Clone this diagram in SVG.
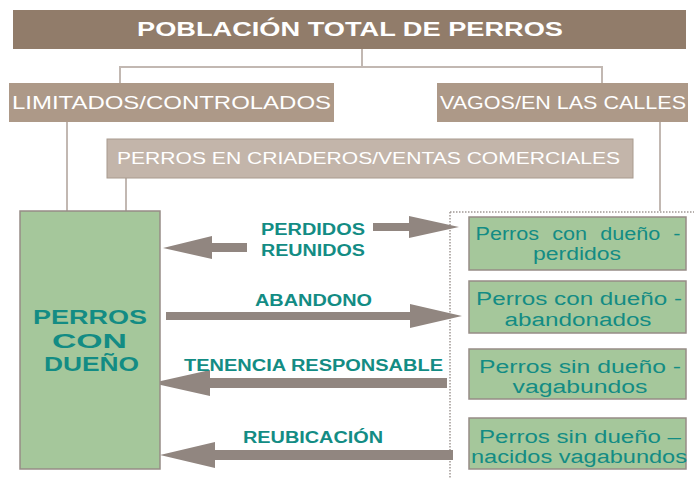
<svg xmlns="http://www.w3.org/2000/svg" width="694" height="479" viewBox="0 0 694 479">
<style>
.line{stroke:#c2b8b2;stroke-width:2;fill:none}
.arr{fill:#918680}
.lbl{font-family:"Liberation Sans",Arial,sans-serif;font-weight:bold;font-size:16px;fill:#138c84}
.gbox{fill:#a5c79b;stroke:#978c86;stroke-width:1.5}
.gtxt{font-family:"Liberation Sans",Arial,sans-serif;font-size:18px;fill:#138c84;text-anchor:middle}
.wtxt{font-family:"Liberation Sans",Arial,sans-serif;fill:#ffffff}
</style>
<rect width="694" height="479" fill="#ffffff"/>
<g id="connectors">
<path class="line" d="M362 48V67M120 83V67H602V83"/>
<path class="line" d="M67 122V211M660 122V211M126 178V211"/>
<path d="M450 212H694M450 212V479" stroke="#a09894" stroke-width="1.5" stroke-dasharray="1.5 1.5" fill="none"/>
<path class="arr" d="M373 223H409V216L459 227L409 238V231H373Z"/>
<path class="arr" d="M247 243H212V236L163 248L212 259V252H247Z"/>
<path class="arr" d="M166 312H410V304L462 316L410 328V320H166Z"/>
<path class="arr" d="M447 378H210V370L152 383L210 396V388H447Z"/>
<path class="arr" d="M453 450H215V442L160 455L215 468V460H453Z"/>
<text class="lbl" x="261" y="235" textLength="104" lengthAdjust="spacingAndGlyphs">PERDIDOS</text>
<text class="lbl" x="261" y="256" textLength="104" lengthAdjust="spacingAndGlyphs">REUNIDOS</text>
<text class="lbl" x="255" y="306" textLength="117" lengthAdjust="spacingAndGlyphs">ABANDONO</text>
<text class="lbl" x="184" y="371" textLength="259" lengthAdjust="spacingAndGlyphs">TENENCIA RESPONSABLE</text>
<text class="lbl" x="243" y="443" textLength="140" lengthAdjust="spacingAndGlyphs">REUBICACIÓN</text>
</g>
<g id="title">
<rect x="13" y="10" width="673" height="39" fill="#917c6a"/>
<text class="wtxt" x="137" y="36" font-size="20" font-weight="bold" textLength="426" lengthAdjust="spacingAndGlyphs">POBLACIÓN TOTAL DE PERROS</text>
</g>
<g id="limitados">
<rect x="9" y="83" width="325" height="39" fill="#ad9988"/>
<text class="wtxt" x="12" y="109" font-size="18" textLength="319" lengthAdjust="spacingAndGlyphs">LIMITADOS/CONTROLADOS</text>
</g>
<g id="vagos">
<rect x="437" y="83" width="251" height="39" fill="#ad9988"/>
<text class="wtxt" x="440" y="109" font-size="18" textLength="246" lengthAdjust="spacingAndGlyphs">VAGOS/EN LAS CALLES</text>
</g>
<g id="criaderos">
<rect x="107" y="139" width="526" height="39" fill="#c3b5aa" stroke="#a89a8e" stroke-width="1"/>
<text class="wtxt" x="117" y="164" font-size="17" fill="#f4f2f4" textLength="503" lengthAdjust="spacingAndGlyphs">PERROS EN CRIADEROS/VENTAS COMERCIALES</text>
</g>
<g id="perros-con-dueno">
<rect class="gbox" x="20" y="211" width="140" height="258"/>
<g font-family="'Liberation Sans',Arial,sans-serif" font-weight="bold" font-size="21" fill="#138c84">
<text x="33" y="324" textLength="114" lengthAdjust="spacingAndGlyphs">PERROS</text>
<text x="52" y="348" textLength="75" lengthAdjust="spacingAndGlyphs">CON</text>
<text x="44" y="371" textLength="95" lengthAdjust="spacingAndGlyphs">DUEÑO</text>
</g>
</g>
<g id="perdidos">
<rect class="gbox" x="469" y="217" width="217" height="53"/>
<text class="gtxt" x="578" y="240" font-size="17" word-spacing="6" textLength="205" lengthAdjust="spacingAndGlyphs">Perros con dueño -</text>
<text class="gtxt" x="577" y="260" font-size="17" textLength="88" lengthAdjust="spacingAndGlyphs">perdidos</text>
</g>
<g id="abandonados">
<rect class="gbox" x="469" y="281" width="217" height="52"/>
<text class="gtxt" x="579" y="305" textLength="206" lengthAdjust="spacingAndGlyphs">Perros con dueño -</text>
<text class="gtxt" x="578" y="326" textLength="147" lengthAdjust="spacingAndGlyphs">abandonados</text>
</g>
<g id="vagabundos">
<rect class="gbox" x="469" y="349" width="217" height="50"/>
<text class="gtxt" x="580" y="373" textLength="202" lengthAdjust="spacingAndGlyphs">Perros sin dueño -</text>
<text class="gtxt" x="580" y="393" textLength="135" lengthAdjust="spacingAndGlyphs">vagabundos</text>
</g>
<g id="nacidos-vagabundos">
<rect class="gbox" x="469" y="418" width="217" height="51"/>
<text class="gtxt" x="580" y="443" textLength="202" lengthAdjust="spacingAndGlyphs">Perros sin dueño –</text>
<text class="gtxt" x="579" y="463" textLength="216" lengthAdjust="spacingAndGlyphs">nacidos vagabundos</text>
</g>
</svg>
